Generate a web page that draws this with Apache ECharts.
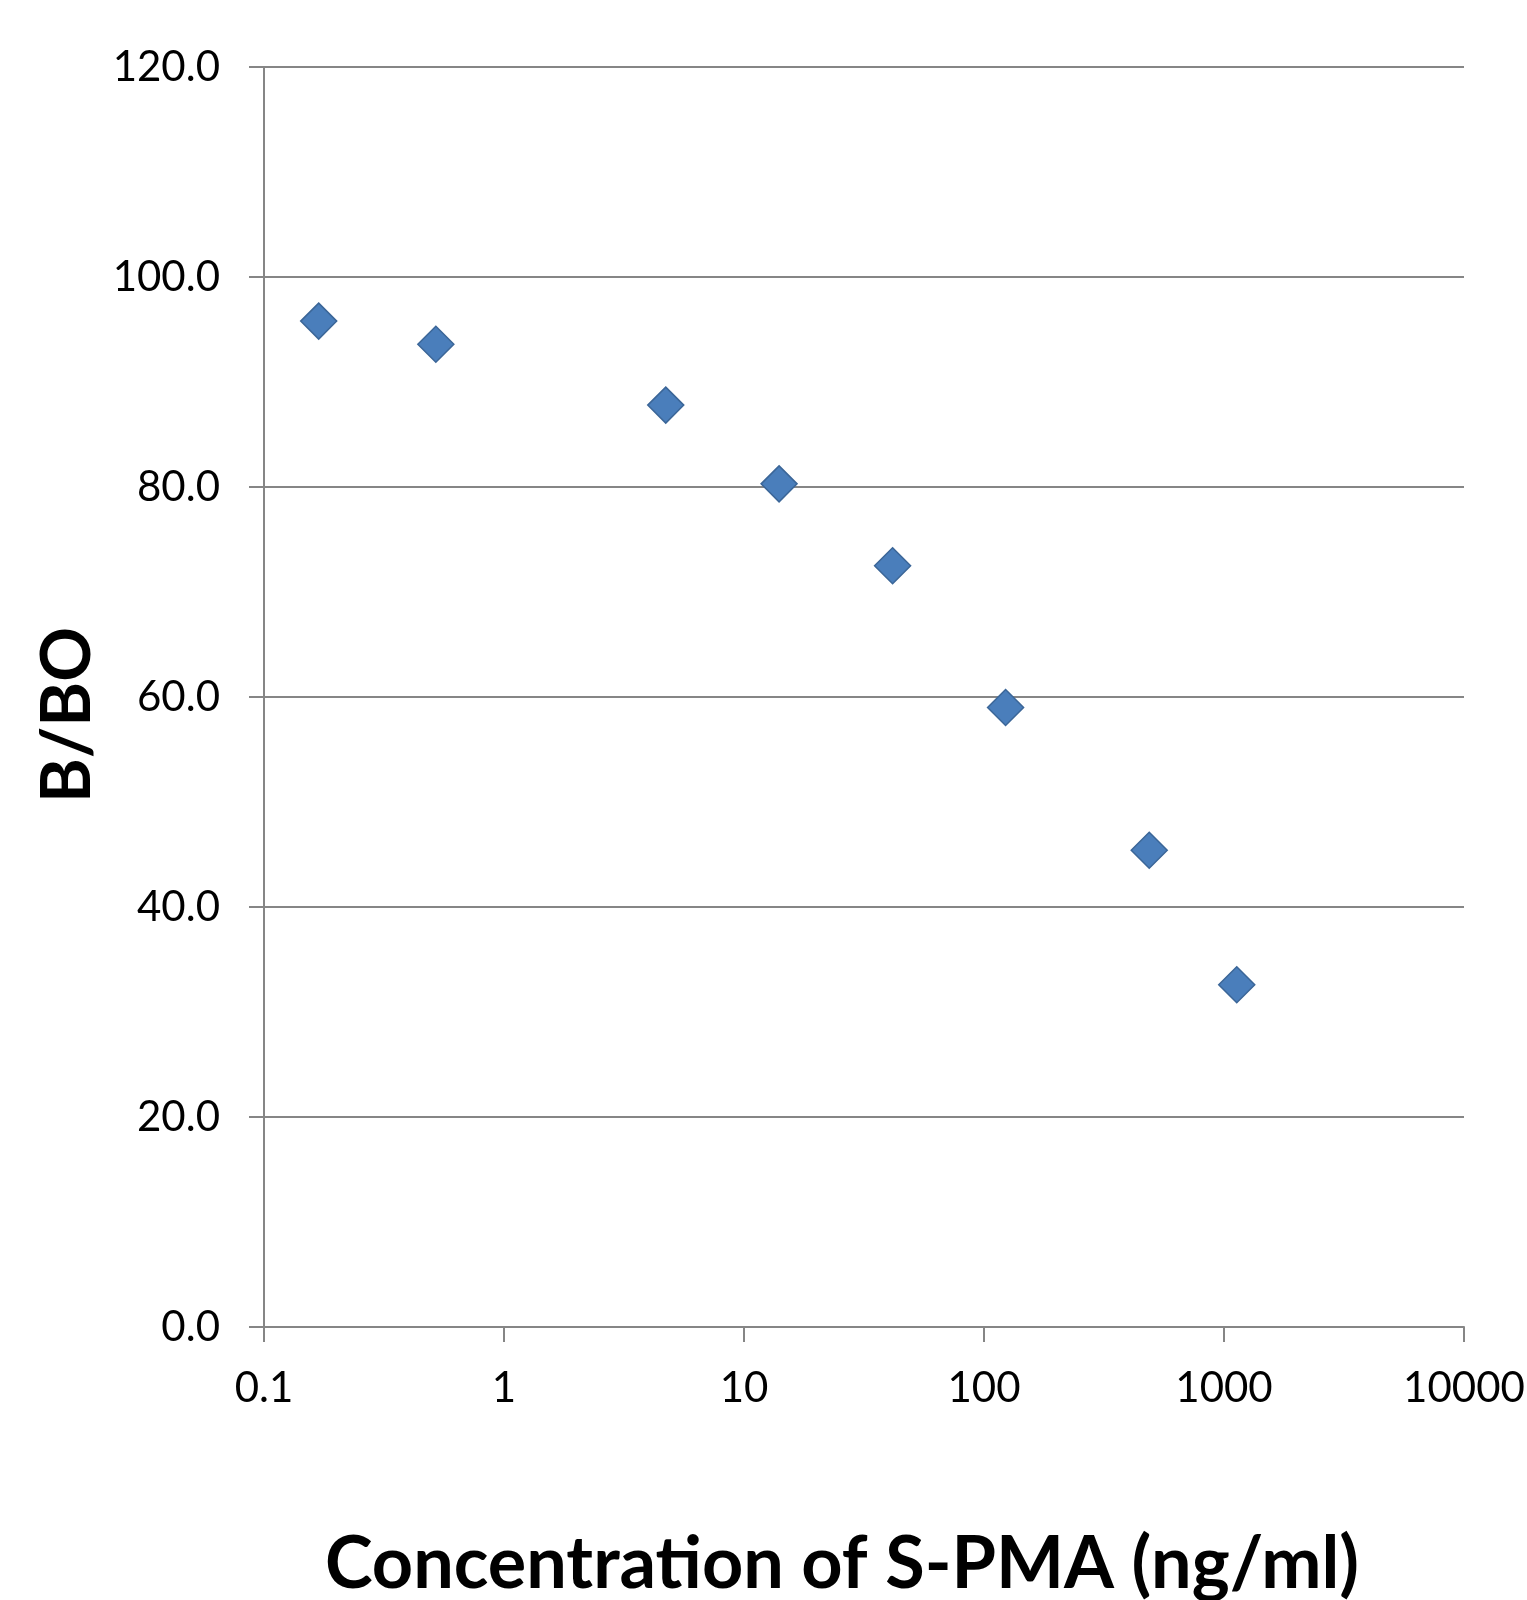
<!DOCTYPE html>
<html>
<head>
<meta charset="utf-8">
<script src="https://cdn.jsdelivr.net/npm/echarts@6/dist/echarts.min.js"></script>
<style>
html,body{margin:0;padding:0;background:#fff;}
#chart{width:1527px;height:1600px;}
</style>
</head>
<body>
<div id="chart"></div>
<script>
const concentrations = [0.169, 0.52, 4.72, 14.0, 41.6, 123, 488, 1130];
const bOverB0 = [95.8, 93.6, 87.8, 80.3, 72.5, 59.0, 45.4, 32.6];
const xTitle = 'Concentration of S-PMA (ng/ml)';
const yTitle = 'B/BO';

const points = concentrations.map((c, i) => [c, bOverB0[i]]);
const gray = '#868686';

const chart = echarts.init(document.getElementById('chart'));
chart.setOption({
  animation: false,
  backgroundColor: '#ffffff',
  grid: { left: 264, right: 63, top: 67, bottom: 273, containLabel: false, outerBoundsMode: 'none' },
  xAxis: {
    type: 'log',
    logBase: 10,
    min: 0.1,
    max: 10000,
    name: xTitle,
    nameLocation: 'middle',
    nameGap: 202,
    nameTextStyle: { fontFamily: 'Lato', fontWeight: 'bold', fontSize: 72, color: '#000', padding: [0, 44, 0, 0] },
    axisLine: { show: true, onZero: false, lineStyle: { color: gray, width: 2 } },
    axisTick: { show: true, inside: false, length: 15, lineStyle: { color: gray, width: 2 } },
    minorTick: { show: false },
    splitLine: { show: false },
    axisLabel: {
      margin: 40,
      fontFamily: 'Lato',
      fontSize: 42,
      color: '#000',
      formatter: function (v) { return String(v); }
    }
  },
  yAxis: {
    type: 'value',
    min: 0,
    max: 120,
    interval: 20,
    name: yTitle,
    nameLocation: 'middle',
    nameGap: 155,
    nameTextStyle: { fontFamily: 'Lato', fontWeight: 'bold', fontSize: 68, color: '#000', padding: [0, 36, 0, 0] },
    axisLine: { show: true, lineStyle: { color: gray, width: 2 } },
    axisTick: { show: true, inside: false, length: 15, lineStyle: { color: gray, width: 2 } },
    splitLine: { show: true, lineStyle: { color: gray, width: 2 } },
    axisLabel: {
      margin: 44,
      fontFamily: 'Lato',
      fontSize: 42,
      color: '#000',
      formatter: function (v) { return v.toFixed(1); }
    }
  },
  series: [{
    type: 'scatter',
    data: points,
    symbol: 'diamond',
    symbolSize: [36, 36],
    itemStyle: { color: '#4a7ebb', borderColor: '#3b6698', borderWidth: 1.5, opacity: 1 }
  }]
});
</script>
</body>
</html>
